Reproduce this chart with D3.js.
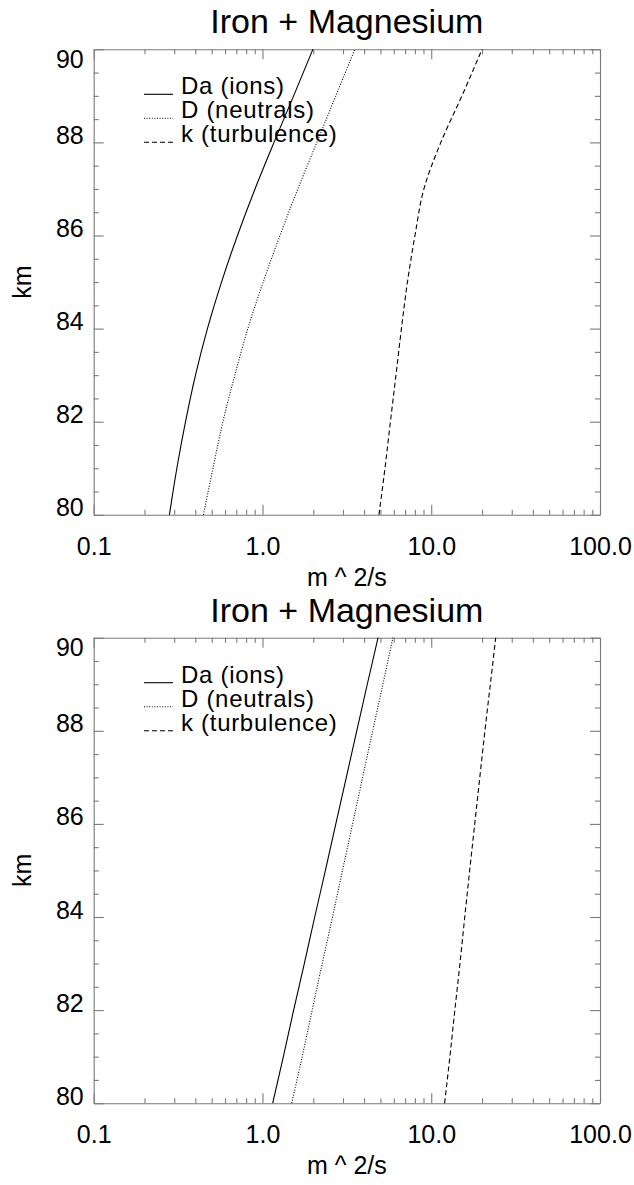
<!DOCTYPE html>
<html>
<head>
<meta charset="utf-8">
<script src="https://cdn.jsdelivr.net/npm/d3@7"></script>
<style>
  body { margin: 0; background: #fff; }
  svg { font-family: "Liberation Sans", Arial, Helvetica, sans-serif; }
  .axis path, .axis line { stroke: #7a7a7a; stroke-width: 1.1; }
  .axis text { fill: #000; font-size: 25px; }
</style>
</head>
<body>
<div id="chart"></div>
<script>
// altitude grid (km) shared by every profile
const altitudes = [80, 81, 82, 83, 84, 85, 86, 87, 88, 89, 90];

// upper panel, m^2/s
const topDa = [0.281, 0.311, 0.350, 0.401, 0.472, 0.572, 0.711, 0.903, 1.17, 1.53, 1.99];
const topD  = [0.447, 0.509, 0.583, 0.686, 0.819, 1.01, 1.27, 1.62, 2.10, 2.72, 3.53];
const topK  = [4.90, 5.32, 5.73, 6.18, 6.66, 7.23, 8.01, 9.05, 11.4, 15.2, 20.0];

// lower panel, m^2/s
const botDa = [1.15, 1.33, 1.53, 1.77, 2.04, 2.36, 2.72, 3.14, 3.62, 4.18, 4.84];
const botD  = [1.49, 1.72, 1.97, 2.26, 2.60, 2.98, 3.42, 3.92, 4.50, 5.17, 5.93];
const botK  = [12.0, 12.9, 13.8, 14.8, 15.8, 16.9, 18.1, 19.4, 20.8, 22.4, 24.1];

const seriesNames = ['Da (ions)', 'D (neutrals)', 'k (turbulence)'];
const seriesDash = [null, '1,1.6', '5,3'];

const xMajor = [0.1, 1, 10, 100];
const xMinor = [2, 3, 4, 5, 6, 7, 8, 9].flatMap(m => [0.1 * m, m, 10 * m]);
const yMajor = [80, 82, 84, 86, 88, 90];
const yMinor = d3.range(80, 90.01, 0.5).filter(v => v % 2 !== 0);

const title = 'Iron + Magnesium';
const xLabel = 'm ^ 2/s';
const yLabel = 'km';

const W = 634, H = 1185;
const svg = d3.select('#chart').append('svg')
  .attr('width', W)
  .attr('height', H);

function drawPanel(top, profiles) {
  let left = 93.7, right = 600, bottom = top + 465.5;
  let x = d3.scaleLog().domain([0.1, 100]).range([left, right]);
  let y = d3.scaleLinear().domain([80, 90]).range([bottom, top]);
  let g = svg.append('g');

  // title
  g.append('text')
    .attr('x', (left + right) / 2)
    .attr('y', top - 16)
    .attr('text-anchor', 'middle')
    .style('font-size', '34px')
    .text(title);

  // bottom axis with labels, plus minor ticks
  g.append('g').classed('axis', true)
    .attr('transform', `translate(0 ${bottom})`)
    .call(d3.axisBottom(x).tickValues(xMajor).tickSizeInner(-10).tickSizeOuter(0)
      .tickPadding(22).tickFormat(d3.format('.1f')));
  g.append('g').classed('axis', true)
    .attr('transform', `translate(0 ${bottom})`)
    .call(d3.axisBottom(x).tickValues(xMinor).tickSize(-5).tickFormat(''))
    .select('.domain').remove();

  // top axis, ticks only
  g.append('g').classed('axis', true)
    .attr('transform', `translate(0 ${top})`)
    .call(d3.axisTop(x).tickValues(xMajor).tickSizeInner(-10).tickSizeOuter(0).tickFormat(''));
  g.append('g').classed('axis', true)
    .attr('transform', `translate(0 ${top})`)
    .call(d3.axisTop(x).tickValues(xMinor).tickSize(-5).tickFormat(''))
    .select('.domain').remove();

  // left axis with labels; end labels are kept inside the box like IDL does
  let yl = g.append('g').classed('axis', true)
    .attr('transform', `translate(${left} 0)`)
    .call(d3.axisLeft(y).tickValues(yMajor).tickSizeInner(-10).tickSizeOuter(0)
      .tickPadding(10).tickFormat(d3.format('d')));
  yl.selectAll('.tick text')
    .attr('dy', null)
    .attr('y', d => Math.max(1, top + 18 - y(d)));
  g.append('g').classed('axis', true)
    .attr('transform', `translate(${left} 0)`)
    .call(d3.axisLeft(y).tickValues(yMinor).tickSize(-5).tickFormat(''))
    .select('.domain').remove();

  // right axis, ticks only
  g.append('g').classed('axis', true)
    .attr('transform', `translate(${right} 0)`)
    .call(d3.axisRight(y).tickValues(yMajor).tickSizeInner(-10).tickSizeOuter(0).tickFormat(''));
  g.append('g').classed('axis', true)
    .attr('transform', `translate(${right} 0)`)
    .call(d3.axisRight(y).tickValues(yMinor).tickSize(-5).tickFormat(''))
    .select('.domain').remove();

  // axis titles
  g.append('text')
    .attr('x', (left + right) / 2)
    .attr('y', bottom + 71)
    .attr('text-anchor', 'middle')
    .style('font-size', '25px')
    .text(xLabel);
  g.append('text')
    .attr('transform', `translate(31 ${(top + bottom) / 2}) rotate(-90)`)
    .attr('text-anchor', 'middle')
    .style('font-size', '25px')
    .text(yLabel);

  // profiles
  let line = d3.line()
    .x(d => x(d[0]))
    .y(d => y(d[1]))
    .curve(d3.curveMonotoneY);
  profiles.forEach((vals, i) => {
    g.append('path')
      .datum(vals.map((v, j) => [v, altitudes[j]]))
      .attr('d', line)
      .attr('fill', 'none')
      .attr('stroke', '#000')
      .attr('stroke-width', 1.1)
      .attr('stroke-dasharray', seriesDash[i]);
  });

  // legend (rows are packed tight, as in the original plot; IDL's
  // helvetica runs a bit wider than liberation, hence the spacing)
  let leg = g.append('g');
  seriesNames.forEach((name, i) => {
    let ly = top + 45 + i * 24;
    leg.append('line')
      .attr('x1', 144).attr('x2', 173)
      .attr('y1', ly).attr('y2', ly)
      .attr('stroke', '#000')
      .attr('stroke-width', 1.1)
      .attr('stroke-dasharray', seriesDash[i]);
    leg.append('text')
      .attr('x', 181)
      .attr('y', ly)
      .style('font-size', '24px')
      .style('letter-spacing', '0.7px')
      .text(name);
  });
}

drawPanel(49.3, [topDa, topD, topK]);
drawPanel(637.7, [botDa, botD, botK]);
</script>
</body>
</html>
